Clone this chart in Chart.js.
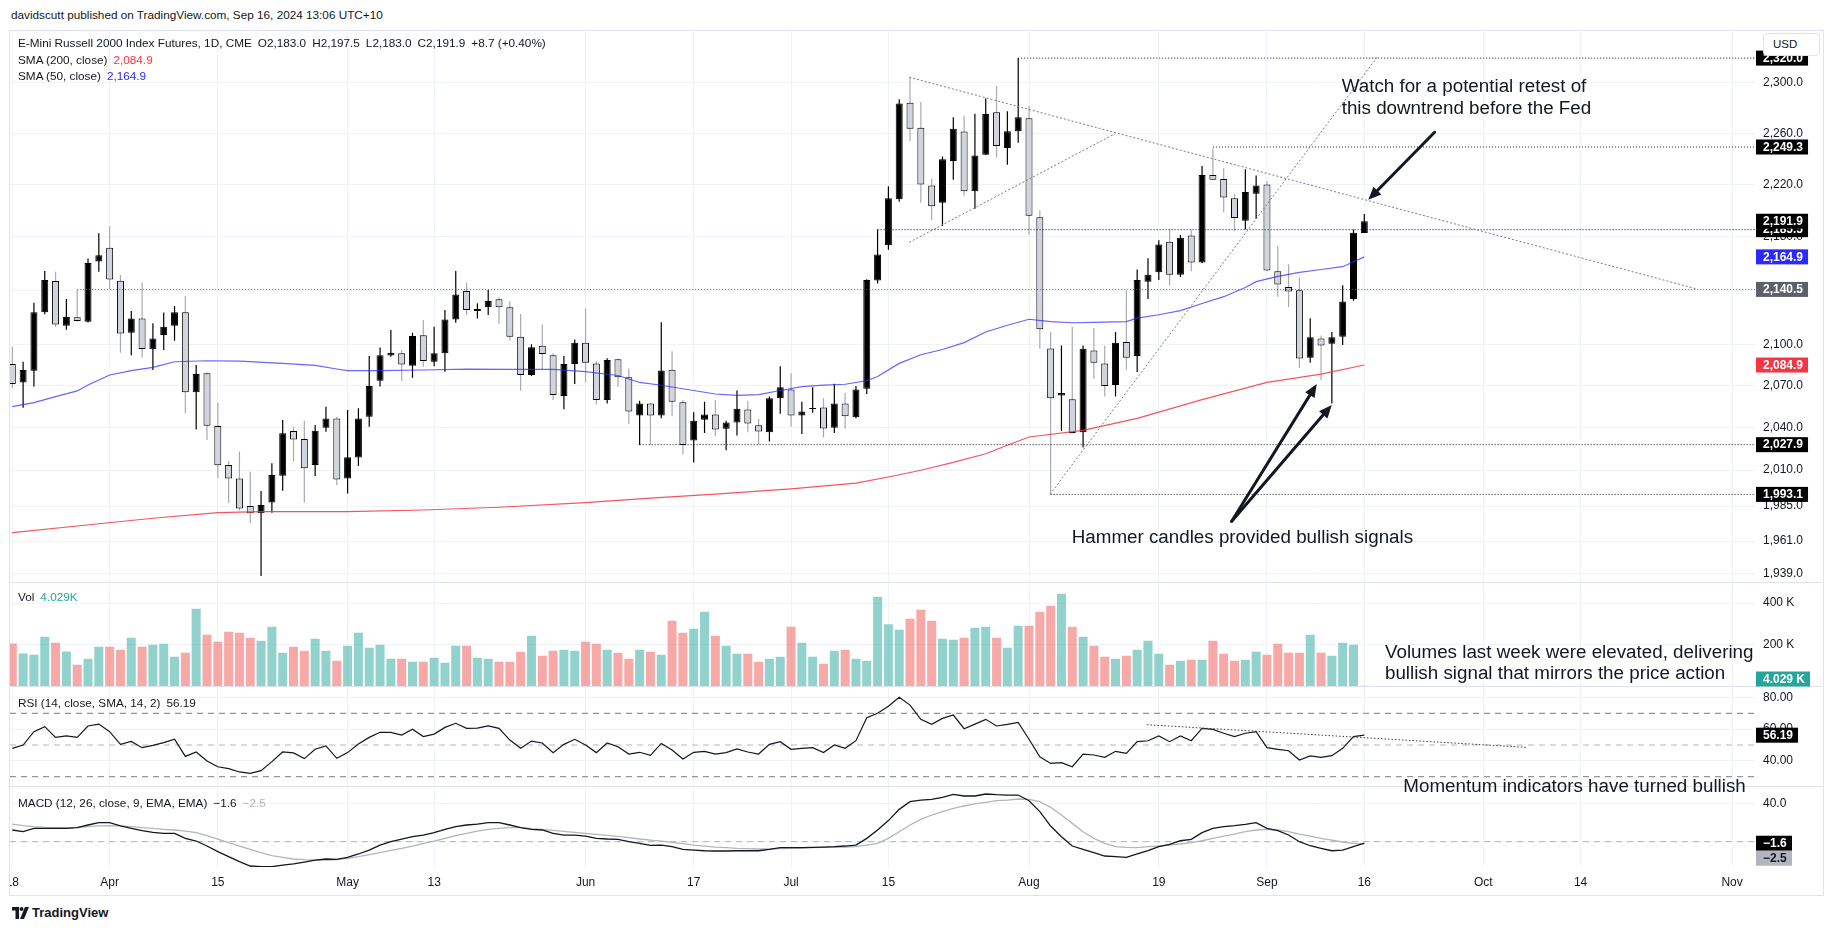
<!DOCTYPE html>
<html><head><meta charset="utf-8">
<script src="https://cdn.jsdelivr.net/npm/chart.js@4.4.1/dist/chart.umd.min.js"></script>
<style>
html,body{margin:0;padding:0;background:#fff;}
body{width:1835px;height:931px;position:relative;overflow:hidden;font-family:"Liberation Sans",Arial,sans-serif;color:#131722;}
#hdr{position:absolute;left:11px;top:8px;font-size:11.75px;line-height:14px;white-space:nowrap;color:#131722;}
#frame{position:absolute;left:9px;top:30px;width:1815px;height:866px;box-sizing:border-box;border:1px solid #e0e3eb;}
#cv{position:absolute;left:10px;top:31px;}
.leg{position:absolute;left:18px;font-size:11.75px;line-height:14px;white-space:nowrap;color:#131722;}
.leg span{margin-left:6px;}
#usd{position:absolute;left:1763px;top:33px;width:57px;height:23px;box-sizing:border-box;border:1px solid #e0e3eb;border-radius:4px;background:#fff;font-size:11.5px;line-height:21px;padding-left:9px;}
#tv{position:absolute;left:12px;top:905px;font-size:13px;line-height:16px;font-weight:600;white-space:nowrap;}
#tv svg{vertical-align:-2px;margin-right:3px;}
</style></head><body>
<div id="hdr">davidscutt published on TradingView.com, Sep 16, 2024 13:06 UTC+10</div>
<div id="frame"></div>
<canvas id="cv" width="1812" height="864"></canvas>
<div class="leg" id="leg1" style="top:36px"></div>
<div class="leg" id="leg2" style="top:53px"></div>
<div class="leg" id="leg3" style="top:69px"></div>
<div class="leg" id="legVol" style="top:590px"></div>
<div class="leg" id="legRsi" style="top:696px"></div>
<div class="leg" id="legMacd" style="top:796px"></div>
<div id="usd">USD</div>
<div id="tv"><svg width="17" height="12" viewBox="0 0 17 12"><path d="M0 0h7v12H3.5V3.5H0z" fill="#131722"/><circle cx="9.5" cy="2" r="2" fill="#131722"/><path d="M13 0h4l-5 12H8z" fill="#131722"/></svg>TradingView</div>
<script>
// ---------------- DATA ----------------
const openP = [2085.6,2072.2,2080.8,2123.5,2146.8,2113.6,2119.8,2116.6,2161.5,2171.8,
2147.0,2108.5,2119.0,2096.3,2106.8,2113.6,2123.5,2065.2,2078.9,2041.1,
2013.6,2004.2,1985.0,1980.0,1987.4,2006.1,2037.5,2031.9,2013.6,2039.9,
2046.5,2004.2,2018.8,2047.7,2073.6,2091.9,2093.4,2084.4,2106.6,2087.3,
2093.4,2118.3,2139.3,2124.5,2127.2,2133.1,2127.2,2105.6,2077.7,2099.0,
2092.1,2062.6,2085.6,2101.2,2086.1,2059.7,2089.1,2076.1,2048.6,2057.2,
2048.6,2081.5,2058.0,2030.8,2045.6,2049.3,2039.2,2043.6,2052.8,2041.6,
2036.7,2060.9,2067.2,2048.6,2053.3,2054.3,2039.9,2057.2,2047.3,2067.7,
2147.1,2173.7,2208.7,2284.2,2264.4,2219.3,2206.1,2238.4,2261.4,2214.9,
2243.3,2276.6,2248.6,2261.7,2271.9,2194.9,2097.0,2062.9,2060.2,2036.7,
2095.5,2086.1,2070.4,2101.7,2091.4,2146.3,2153.3,2176.3,2151.5,2181.0,
2160.6,2227.5,2224.3,2209.5,2192.3,2213.0,2220.1,2154.1,2142.4,2139.8,
2090.2,2104.3,2100.4,2105.6,2133.3,2183.0];
const highP = [2098.3,2087.3,2130.6,2154.2,2153.7,2133.3,2140.1,2163.7,2182.7,2188.3,
2151.2,2124.5,2145.5,2115.4,2123.3,2128.2,2135.6,2084.9,2079.5,2057.8,
2016.4,2023.0,2008.9,1995.4,2014.8,2045.3,2040.6,2044.8,2041.8,2054.9,
2047.7,2052.5,2053.7,2091.4,2097.6,2110.4,2095.9,2108.5,2117.8,2112.9,
2125.2,2154.2,2145.5,2130.2,2140.0,2134.6,2131.9,2122.3,2100.0,2114.6,
2093.4,2091.4,2103.6,2126.4,2087.9,2089.9,2089.5,2082.3,2059.2,2057.5,
2116.1,2095.0,2059.7,2051.0,2058.5,2059.7,2044.8,2066.5,2059.2,2046.1,
2062.2,2084.0,2079.0,2058.5,2068.9,2060.9,2071.4,2064.7,2069.7,2148.1,
2185.6,2218.7,2287.0,2304.6,2284.8,2224.3,2241.9,2272.8,2273.9,2275.5,
2287.6,2297.6,2277.4,2320.0,2281.6,2200.2,2109.0,2099.2,2112.8,2099.2,
2112.0,2099.2,2109.0,2139.8,2155.4,2163.8,2177.5,2185.6,2181.5,2185.6,
2234.5,2248.1,2232.9,2212.7,2231.9,2227.0,2222.8,2173.1,2159.3,2149.4,
2119.2,2106.4,2109.0,2143.7,2185.6,2197.5];
const lowP = [2068.2,2054.2,2069.3,2122.0,2112.9,2110.7,2116.6,2116.0,2153.7,2140.6,
2093.9,2092.1,2090.2,2081.3,2095.9,2102.6,2050.2,2038.7,2031.2,2004.2,
1986.9,1982.0,1973.1,1937.2,1980.4,1995.6,2016.0,1987.4,2005.9,2037.0,
1999.6,1993.8,2012.9,2040.6,2069.3,2090.9,2073.6,2075.7,2083.6,2084.1,
2080.1,2115.9,2121.5,2119.0,2121.5,2114.9,2102.6,2066.4,2077.0,2081.8,
2059.7,2053.0,2071.2,2072.2,2056.5,2057.2,2069.2,2042.4,2027.6,2027.6,
2046.6,2048.1,2021.0,2015.4,2036.2,2033.8,2023.9,2034.3,2036.7,2027.6,
2030.1,2049.8,2040.6,2035.5,2050.5,2033.0,2036.2,2039.2,2046.6,2064.0,
2145.0,2170.3,2206.9,2253.6,2206.1,2192.8,2188.3,2223.8,2211.4,2201.5,
2243.0,2241.1,2235.5,2252.7,2181.7,2096.7,1993.1,2037.5,2035.8,2025.9,
2074.8,2062.2,2062.2,2081.5,2079.8,2133.3,2147.6,2143.7,2149.7,2154.1,
2160.0,2223.5,2198.8,2184.3,2185.6,2193.6,2154.1,2135.1,2127.4,2082.8,
2086.6,2074.1,2057.2,2099.4,2132.0,2183.0];
const closeP = [2071.2,2081.3,2123.5,2147.5,2114.6,2120.0,2117.1,2160.2,2166.2,2148.0,
2108.0,2119.0,2096.6,2104.3,2112.9,2123.5,2065.2,2078.4,2041.3,2013.4,
2004.2,1983.4,1980.0,1985.7,2006.6,2035.9,2031.6,2011.3,2037.8,2046.5,
2003.5,2019.0,2046.5,2069.8,2092.1,2093.9,2085.3,2106.1,2087.8,2093.4,
2118.3,2136.8,2125.2,2126.0,2131.9,2127.2,2105.6,2077.7,2097.8,2092.9,
2063.3,2085.6,2101.2,2086.5,2059.7,2088.6,2076.1,2051.5,2057.2,2048.6,
2081.0,2058.5,2027.6,2044.8,2049.3,2038.7,2043.6,2053.5,2042.9,2037.2,
2060.9,2068.9,2048.6,2051.5,2054.0,2039.4,2057.2,2048.1,2067.2,2147.6,
2166.6,2209.5,2283.7,2263.6,2220.1,2203.4,2239.7,2263.6,2214.9,2242.7,
2275.3,2250.0,2261.7,2272.8,2196.2,2111.0,2061.0,2064.7,2036.2,2096.7,
2086.6,2069.7,2101.2,2090.2,2147.6,2151.5,2174.2,2151.5,2179.4,2160.6,
2227.5,2223.8,2210.1,2194.4,2214.3,2219.3,2154.6,2144.2,2139.0,2089.6,
2105.1,2099.2,2105.1,2131.5,2183.2,2191.9];
const volK = [206.4,158.5,152.1,238.4,209.6,168.1,104.1,132.9,190.4,190.4,
176.0,233.6,190.4,200.0,204.8,142.5,161.7,372.7,248.0,214.4,
262.4,257.6,233.6,219.2,286.4,161.7,190.4,171.3,228.8,171.3,
123.3,195.2,257.6,185.6,200.0,132.9,132.9,118.5,118.5,137.7,
113.7,195.2,195.2,137.7,132.9,118.5,118.5,166.5,243.2,147.3,
171.3,176.0,171.3,214.4,204.8,176.0,161.7,132.9,176.0,166.5,
152.1,315.2,257.6,276.8,358.3,243.2,195.2,156.9,156.9,118.5,
132.9,142.5,286.4,209.6,142.5,108.9,171.3,176.0,132.9,123.3,
430.2,299.2,272.0,324.8,367.9,315.2,228.8,224.0,233.6,281.6,
286.4,233.6,185.6,291.2,291.2,358.3,387.1,444.6,286.4,238.4,
195.2,142.5,132.9,147.3,176.0,219.2,156.9,104.1,123.3,128.1,
128.1,219.2,156.9,123.3,128.1,166.5,152.1,204.8,161.7,161.7,
248.0,161.7,147.3,209.6,200.0,4.029];
const rsiV = [47.9,50.0,58.4,61.6,54.8,55.7,54.8,62.0,63.2,58.4,
50.4,52.3,48.3,49.8,51.5,53.6,42.8,45.6,39.9,36.3,
35.1,33.0,32.1,33.8,39.5,45.6,45.0,41.4,47.3,49.4,
41.6,45.2,50.6,54.8,58.0,58.0,56.3,59.9,55.3,56.9,
61.1,63.7,60.5,60.7,62.0,60.5,53.1,47.9,52.5,51.3,
45.2,50.4,53.6,50.0,45.2,51.3,48.9,44.3,45.4,43.5,
51.0,46.8,41.2,45.4,46.0,44.3,45.2,47.5,45.6,44.3,
50.4,52.1,47.3,47.9,48.3,45.2,50.0,47.9,52.7,67.2,
70.0,74.4,80.1,75.2,66.2,63.0,66.8,68.9,60.3,63.2,
66.2,62.0,63.0,64.3,53.6,42.6,38.4,38.9,36.3,44.3,
43.7,42.2,46.0,44.7,52.1,52.7,55.7,52.1,55.7,52.7,
60.5,59.9,57.4,55.3,57.4,58.4,48.3,47.3,46.4,40.5,
43.1,42.2,43.3,47.9,55.3,56.19];
const macdV = [12.2,10.5,13.9,13.9,13.9,13.9,14.6,17.4,19.8,19.8,
16.4,13.9,11.5,9.8,8.7,8.7,3.5,0.7,-4.5,-10.4,
-15.6,-20.8,-25.3,-26.0,-26.0,-24.3,-23.2,-21.2,-19.1,-18.0,
-18.4,-16.3,-12.8,-8.7,-3.5,0.0,2.8,5.2,6.9,9.4,
12.9,15.7,17.4,18.4,19.8,19.8,17.4,14.6,12.9,12.2,
8.7,6.9,6.9,5.9,3.5,2.8,2.5,0.0,-1.7,-3.8,
-3.5,-5.2,-8.0,-8.7,-9.4,-9.7,-9.7,-9.4,-9.4,-9.4,
-8.0,-6.2,-6.2,-6.2,-5.9,-5.6,-5.2,-4.5,-3.5,3.5,
12.2,22.0,33.7,41.7,43.4,44.1,46.2,49.3,47.6,47.6,
49.7,49.0,48.6,48.6,42.7,31.3,16.3,5.2,-4.5,-8.0,
-11.4,-14.9,-15.6,-16.3,-12.8,-9.4,-5.2,-2.8,1.0,2.4,
9.4,13.9,15.6,16.7,18.1,19.8,13.9,11.5,7.0,0.0,
-4.2,-6.9,-9.4,-8.7,-5.2,-1.6];
const sigV = [18.4,16.7,15.7,15.0,14.6,14.6,15.0,15.7,16.4,16.7,
16.4,15.7,14.6,13.9,12.9,12.2,11.1,9.4,6.3,2.8,
-1.0,-4.5,-8.0,-11.4,-14.5,-16.3,-18.0,-18.7,-19.1,-19.1,
-18.7,-17.3,-15.6,-13.5,-11.4,-9.0,-6.9,-4.5,-1.7,0.7,
3.5,6.3,8.7,11.1,12.9,13.9,14.6,14.6,13.6,12.9,
11.8,10.8,9.8,8.7,7.7,6.6,5.6,4.2,2.8,1.7,
0.7,-0.7,-2.1,-3.5,-4.5,-5.6,-6.2,-6.9,-7.3,-7.6,
-7.6,-7.3,-6.9,-6.6,-6.2,-5.9,-5.9,-5.6,-5.2,-3.5,
-1.7,3.5,10.4,17.4,23.3,27.8,31.3,34.7,37.2,39.3,
41.0,42.7,43.4,44.5,44.1,41.7,35.8,27.8,19.1,10.4,
3.5,-1.7,-5.2,-5.9,-6.2,-5.2,-4.5,-3.5,-2.4,-1.0,
1.0,3.5,5.9,8.0,10.4,12.2,12.9,12.2,10.4,8.0,
5.9,3.5,1.7,-0.3,-1.7,-2.5];
const sma50Idx = [0,2,4,6,7,9,11,13,15,18,21,25,28,30,31,34,38,42,46,50,53,56,58,60,63,65,67,69,71,73,75,77,79,80,82,84,86,88,90,92,94,96,98,100,103,104,106,108,110,112,114,115,117,119,121,123,125];
const sma50Val = [2054.9,2057.8,2062.1,2066.2,2070.5,2077.7,2080.8,2083.2,2087.3,2088.0,2087.8,2086.1,2084.7,2082.0,2080.8,2080.8,2081.3,2082.0,2081.8,2081.8,2080.1,2077.3,2072.3,2070.3,2066.5,2064.0,2063.0,2063.5,2066.5,2069.3,2070.3,2071.0,2073.5,2076.6,2086.1,2092.4,2096.2,2101.2,2109.0,2114.0,2118.4,2116.6,2115.8,2116.1,2116.6,2119.2,2121.7,2124.8,2130.0,2135.1,2141.9,2146.3,2150.2,2153.3,2155.4,2157.5,2164.9];
const sma200Idx = [0,6,13,19,23,31,38,45,53,59,65,72,78,81,84,87,90,92,94,99,104,110,116,121,125];
const sma200Val = [1966.7,1971.3,1976.6,1980.5,1981.2,1981.2,1982.3,1984.2,1987.4,1990.5,1993.3,1996.9,2000.9,2005.2,2009.9,2015.4,2021.5,2027.5,2033.3,2038.0,2046.5,2060.0,2072.3,2078.3,2084.9];
const xTickIdx = [0,9,19,31,39,53,63,72,81,94,106,116,125,136,145,159];
const xTickLbl = ['18','Apr','15','May','13','Jun','17','Jul','15','Aug','19','Sep','16','Oct','14','Nov'];
const priceTicks = [2300,2260,2220,2180,2140,2100,2070,2040,2010,1985,1961,1939];
const volTicks = [200,400];
const rsiTicks = [40,60,80];
const macdTicks = [0,40];
const levelVals = [2320.0,2249.3,2185.5,2140.5,2027.9,1993.1];
const levelFrom = [93,111,80,6,58,96];
const trendA = [[82.93,2304.6],[155.76,2140.8]];
const trendB = [[82.93,2175.9],[101.95,2259.7]];
const trendC = [[95.94,1993.1],[126.3,2322.0]];
const rsiTrend = [[104.9,62.8],[140.0,48.5]];
const rsiBands = [70,50,30];
const macdZero = [0];
const arrowsMain = [[[131.5,2260.9],[125.37,2208.3]],[[112.74,1974.5],[120.6,2071.1]],[[112.74,1974.5],[121.99,2056.1]]];
const notes = [
  {axis:'yMain', x:122.91, y:2296.8, lines:['Watch for a potential retest of','this downtrend before the Fed']},
  {axis:'yMain', x:97.95, y:1963.3, lines:['Hammer candles provided bullish signals']},
  {axis:'yVol', x:126.91, y:162.2, lines:['Volumes last week were elevated, delivering','bullish signal that mirrors the price action']},
  {axis:'yMacd', x:128.61, y:56.7, lines:['Momentum indicators have turned bullish']}
];

// ---------------- LAYOUT / STYLE ----------------
const FONT = '"Liberation Sans", Arial, sans-serif';
const GRID = '#f0f3fa';
const INK = '#131722';
const xMin = -0.2127, xMax = 161.122;
const N = closeP.length, L = N - 1;
const xs = closeP.map((_, i) => i);
const isUp = xs.map(i => closeP[i] >= openP[i]);
const fmt = (v, d) => v.toLocaleString('en-US', {minimumFractionDigits: d, maximumFractionDigits: d});
const mn = s => s.replace('-', '\u2212');

// legends (real text)
const up = closeP[L] - closeP[L-1];
document.getElementById('leg1').innerHTML = 'E-Mini Russell 2000 Index Futures, 1D, CME<span>O' + fmt(openP[L],1) + '</span><span>H' + fmt(highP[L],1) + '</span><span>L' + fmt(lowP[L],1) + '</span><span>C' + fmt(closeP[L],1) + '</span><span>' + (up>=0?'+':'') + fmt(up,1) + ' (' + (up>=0?'+':'') + fmt(up/closeP[L-1]*100,2) + '%)</span>';
document.getElementById('leg2').innerHTML = 'SMA (200, close)<span style="color:#f23645">' + fmt(sma200Val[sma200Val.length-1],1) + '</span>';
document.getElementById('leg3').innerHTML = 'SMA (50, close)<span style="color:#2a2aff">' + fmt(sma50Val[sma50Val.length-1],1) + '</span>';
document.getElementById('legVol').innerHTML = 'Vol<span style="color:#26a69a">' + fmt(volK[L],3) + 'K</span>';
document.getElementById('legRsi').innerHTML = 'RSI (14, close, SMA, 14, 2)<span>' + fmt(rsiV[L],2) + '</span>';
document.getElementById('legMacd').innerHTML = 'MACD (12, 26, close, 9, EMA, EMA)<span>' + mn(fmt(macdV[L],1)) + '</span><span style="color:#b2b5be">' + mn(fmt(sigV[L],1)) + '</span>';

const pts = arr => arr.map(p => ({x: p[0], y: p[1]}));
const lineDS = (label, axis, data, color, width, dash, order) => ({type:'line', label, yAxisID: axis, data, borderColor: color, borderWidth: width, borderDash: dash || [], pointRadius: 0, pointHoverRadius: 0, tension: 0, fill: false, order});

const datasets = [
  lineDS('trendA','yMain', pts(trendA), '#787b86', 1, [2,2], 0),
  lineDS('trendB','yMain', pts(trendB), '#787b86', 1, [2,2], 0),
  lineDS('trendC','yMain', pts(trendC), '#787b86', 1, [2,2], 0),
  ...levelVals.map((v, k) => lineDS('lvl'+k, 'yMain', [{x: levelFrom[k], y: v}, {x: xMax, y: v}], k === 3 ? '#5d606b' : INK, 1, [1,2], 0)),
  lineDS('sma50','yMain', sma50Idx.map((x, k) => ({x, y: sma50Val[k]})), 'rgba(42,42,255,0.72)', 1.2, null, 1),
  lineDS('sma200','yMain', sma200Idx.map((x, k) => ({x, y: sma200Val[k]})), 'rgba(242,54,69,0.85)', 1.2, null, 1),
  {type:'bar', label:'body', yAxisID:'yMain', stack:'c', order:2,
   data: xs.map(i => ({x: i, y: [Math.min(openP[i], closeP[i]), Math.max(openP[i], closeP[i])]})),
   backgroundColor: xs.map(i => isUp[i] ? '#000000' : '#d1d4dc'), borderColor: '#000000', borderWidth: 1, borderSkipped: false, barThickness: 7, inflateAmount: 0},
  {type:'bar', label:'wick', yAxisID:'yMain', stack:'c', order:3,
   data: xs.map(i => ({x: i, y: [lowP[i], highP[i]]})),
   backgroundColor: xs.map(i => isUp[i] ? '#000000' : '#a7aab3'), borderWidth: 0, barThickness: 1.2, inflateAmount: 0},
  {type:'bar', label:'vol', yAxisID:'yVol', stack:'c', order:4,
   data: xs.map(i => ({x: i, y: volK[i]})),
   backgroundColor: xs.map(i => isUp[i] ? 'rgba(38,166,154,0.5)' : 'rgba(239,83,80,0.5)'), borderWidth: 0, barThickness: 9, inflateAmount: 0},
  ...rsiBands.map((v, k) => lineDS('band'+k, 'yRsi', [{x: xMin, y: v}, {x: xMax, y: v}], k === 1 ? 'rgba(120,123,134,0.55)' : '#787b86', 1, [6,5], 5)),
  lineDS('rsi','yRsi', xs.map(i => ({x: i, y: rsiV[i]})), INK, 1.2, null, 1),
  lineDS('rsiTrend','yRsi', pts(rsiTrend), '#3a3d47', 1, [1.5,2], 0),
  ...macdZero.map(v => lineDS('zero','yMacd', [{x: xMin, y: v}, {x: xMax, y: v}], 'rgba(120,123,134,0.55)', 1, [6,5], 5)),
  lineDS('signal','yMacd', xs.map(i => ({x: i, y: sigV[i]})), '#b2b5be', 1.3, null, 2),
  lineDS('macd','yMacd', xs.map(i => ({x: i, y: macdV[i]})), INK, 1.3, null, 1)
];

const tickFont = {family: FONT, size: 12};
function yScale(type, min, max, weight, ticksArr, cb) {
  return {
    type, min, max, position: 'right', stack: 'pane', stackWeight: weight, stacked: false, bounds: 'data', offset: false,
    grid: {color: GRID, drawTicks: false}, border: {display: false},
    ticks: {padding: 8, color: INK, font: tickFont, autoSkip: false, callback: cb},
    afterBuildTicks: s => { s.ticks = ticksArr.map(v => ({value: v})); },
    afterFit: s => { s.width = 67; s.paddingTop = 0; s.paddingBottom = 0; }
  };
}

const overlay = {
  id: 'overlay',
  afterDraw(chart) {
    const {ctx, scales} = chart;
    const X = scales.x;
    ctx.save();
    ctx.setLineDash([]);
    // pane separators
    ctx.strokeStyle = '#e0e3eb'; ctx.lineWidth = 1;
    ['yVol','yRsi','yMacd'].forEach(id => {
      const y = Math.round(scales[id].top) - 0.5;
      ctx.beginPath(); ctx.moveTo(0, y); ctx.lineTo(chart.width, y); ctx.stroke();
    });
    // arrows
    ctx.strokeStyle = INK; ctx.fillStyle = INK; ctx.lineWidth = 3; ctx.lineCap = 'round';
    const Y = scales.yMain;
    arrowsMain.forEach(a => {
      const x1 = X.getPixelForValue(a[0][0]), y1 = Y.getPixelForValue(a[0][1]);
      const x2 = X.getPixelForValue(a[1][0]), y2 = Y.getPixelForValue(a[1][1]);
      const ang = Math.atan2(y2 - y1, x2 - x1), hl = 13, hw = 5.5;
      const bx = x2 - hl * Math.cos(ang), by = y2 - hl * Math.sin(ang);
      ctx.beginPath(); ctx.moveTo(x1, y1); ctx.lineTo(bx, by); ctx.stroke();
      ctx.beginPath(); ctx.moveTo(x2, y2);
      ctx.lineTo(bx - hw * Math.sin(ang), by + hw * Math.cos(ang));
      ctx.lineTo(bx + hw * Math.sin(ang), by - hw * Math.cos(ang));
      ctx.closePath(); ctx.fill();
    });
    // text notes
    ctx.font = '18.8px ' + FONT; ctx.textAlign = 'left'; ctx.textBaseline = 'middle'; ctx.fillStyle = INK;
    notes.forEach(n => {
      const S = scales[n.axis];
      const px = X.getPixelForValue(n.x), py = S.getPixelForValue(n.y);
      n.lines.forEach((t, k) => ctx.fillText(t, px, py + k * 21.6));
    });
    // axis value boxes
    const boxes = [
      ...levelVals.map((v, k) => ({axis:'yMain', v, text: fmt(v,1), bg: k === 3 ? '#5d606b' : '#000000'})),
      {axis:'yMain', v: sma200Val[sma200Val.length-1], text: fmt(sma200Val[sma200Val.length-1],1), bg:'#f23645'},
      {axis:'yMain', v: sma50Val[sma50Val.length-1], text: fmt(sma50Val[sma50Val.length-1],1), bg:'#2a2aff'},
      {axis:'yMain', v: closeP[L], text: fmt(closeP[L],1), bg:'#000000'},
      {axis:'yVol', v: volK[L], text: fmt(volK[L],3) + ' K', bg:'#26a69a', clamp: true},
      {axis:'yRsi', v: rsiV[L], text: fmt(rsiV[L],2), bg:'#000000'},
      {axis:'yMacd', v: macdV[L], text: mn(fmt(macdV[L],1)), bg:'#000000'},
      {axis:'yMacd', v: sigV[L], text: mn(fmt(sigV[L],1)), bg:'#b2b5be', fg: INK, below: true}
    ];
    ctx.font = 'bold 12px ' + FONT;
    const H = 15;
    let prev = null;
    boxes.forEach(b => {
      const S = scales[b.axis];
      let y = S.getPixelForValue(b.v);
      if (b.clamp) y = Math.min(Math.max(y, S.top + H/2), S.bottom - H/2);
      if (b.below && prev && y - H/2 < prev.bottom) y = prev.bottom + H/2;
      const w = Math.max(ctx.measureText(b.text).width + 12, 36);
      const x0 = S.left + 1;
      ctx.fillStyle = b.bg; ctx.fillRect(x0, y - H/2, w, H);
      ctx.fillStyle = b.fg || '#ffffff'; ctx.textBaseline = 'middle'; ctx.textAlign = 'left';
      ctx.fillText(b.text, x0 + 7, y + 0.5);
      prev = {bottom: y + H/2};
    });
    ctx.restore();
  }
};

new Chart(document.getElementById('cv'), {
  type: 'line',
  data: {datasets},
  options: {
    responsive: false, animation: false, devicePixelRatio: 1, events: [],
    layout: {padding: 0},
    plugins: {legend: {display: false}, tooltip: {enabled: false}, title: {display: false}},
    scales: {
      x: {
        type: 'linear', min: xMin, max: xMax, bounds: 'data', offset: false,
        grid: {color: GRID, drawTicks: false, offset: false}, border: {display: false},
        ticks: {autoSkip: false, maxRotation: 0, minRotation: 0, padding: 8, color: INK, font: tickFont, callback: (v, i) => xTickLbl[i]},
        afterBuildTicks: s => { s.ticks = xTickIdx.map(v => ({value: v})); },
        afterFit: s => { s.height = 28; s.paddingLeft = 0; s.paddingRight = 0; }
      },
      yMain: yScale('logarithmic', 1932.9, 2341.98, 551.5, priceTicks, v => fmt(v, 1)),
      yVol: yScale('linear', 0, 499, 104, volTicks, v => fmt(v, 0) + ' K'),
      yRsi: yScale('linear', 23.82, 86.91, 100, rsiTicks, v => fmt(v, 2)),
      yMacd: yScale('linear', -26.35, 57.5, 80.5, macdTicks, v => fmt(v, 1))
    }
  },
  plugins: [overlay]
});
</script>
</body></html>
